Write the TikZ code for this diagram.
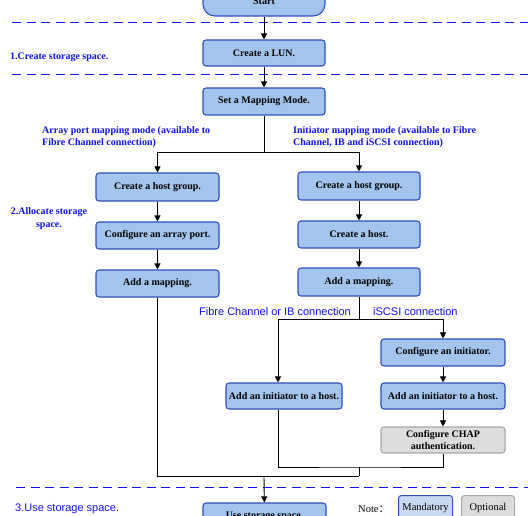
\documentclass[tikz,border=0pt]{standalone}
\usepackage{fontspec}
\setmainfont{Liberation Serif}
\setsansfont{Liberation Sans}
\newfontfamily\cjk{Noto Sans CJK SC}
\usetikzlibrary{arrows.meta}
\definecolor{boxfill}{HTML}{A3C4EC}
\definecolor{boxline}{HTML}{2F4FC0}
\definecolor{grayfill}{HTML}{DCDCDC}
\definecolor{grayline}{HTML}{A8A8A8}
\definecolor{lightfill}{HTML}{C8DAF2}
\definecolor{lblue}{HTML}{1010F0}
\begin{document}
\begin{tikzpicture}[x=1pt,y=-1pt,
  box/.style={draw=boxline, fill=boxfill, line width=1.1pt, rounded corners=3pt,
    minimum width=#1, minimum height=27pt, inner sep=0pt,
    font=\bfseries\fontsize{10}{12}\selectfont, align=center},
  box/.default=122pt,
  graybox/.style={box=#1, draw=grayline, fill=grayfill},
  graybox/.default=124pt,
  arr/.style={-{Triangle[length=6pt,width=6pt]}, line width=0.9pt},
  conn/.style={line width=0.9pt},
  sep/.style={draw=lblue, line width=1pt, dash pattern=on 9pt off 5.5pt},
  lab/.style={text=lblue, font=\bfseries\fontsize{10}{12}\selectfont, inner sep=0pt, align=left, anchor=west},
  slab/.style={text=lblue, font=\sffamily\fontsize{11}{13}\selectfont, inner sep=0pt, anchor=west}
]
\useasboundingbox (0,0) rectangle (528,516);
\clip (0,0) rectangle (528,516);

% separators
\path[sep] (12,23) -- (530,23);
\path[sep] (12,75) -- (530,75);
\path[sep] (16,487) -- (530,487);

% nodes
\node[box, minimum height=30pt, rounded corners=12pt] (start) at (264,1) {Start};
\node[box, minimum height=26pt] (lun) at (264,53) {Create a LUN.};
\node[box] (mode) at (264,101.5) {Set a Mapping Mode.};

\node[box=123pt, minimum height=28pt] (lhg) at (157.5,187) {Create a host group.};
\node[box=123pt] (lport) at (157.5,235.5) {Configure an array port.};
\node[box=123pt] (lmap) at (157.5,283.5) {Add a mapping.};

\node[box, minimum height=28pt] (rhg) at (359,186) {Create a host group.};
\node[box] (rhost) at (359,234.5) {Create a host.};
\node[box, minimum height=28pt] (rmap) at (359,282) {Add a mapping.};

\node[box=124pt] (cinit) at (443,352.5) {Configure an initiator.};
\node[box=124pt, minimum height=26pt] (rinit) at (443,396) {Add an initiator to a host.};
\node[graybox, minimum height=26pt] (chap) at (443,440) {Configure CHAP\\authentication.};
\node[box=116pt, minimum height=26pt] (linit) at (284,396) {Add an initiator to a host.};

\node[box=123pt, minimum height=27pt] (use) at (264.5,516.5) {Use storage space.};

% labels
\node[lab] (l1) at (10,57) {1.Create storage space.};
\node[lab] (l2) at (42,137) {Array port mapping mode (available to\\Fibre Channel connection)};
\node[lab] (l3) at (293,137) {Initiator mapping mode (available to Fibre\\Channel, IB and iSCSI connection)};
\node[lab, align=center, anchor=center, font=\bfseries\fontsize{10}{13}\selectfont] (l4) at (49,219) {2.Allocate storage\\space.};
\node[slab] (l5) at (199,312) {Fibre Channel or IB connection};
\node[slab] (l6) at (373,312) {iSCSI connection};
\node[slab] (l7) at (15,509) {3.Use storage space.};

% legend
\node[inner sep=0pt, anchor=west, font=\fontsize{10.5}{12}\selectfont] (note) at (358,509) {Note\cjk{：}};
\node[draw=boxline, fill=lightfill, line width=1pt, rounded corners=3pt, minimum width=54pt, minimum height=28pt, inner sep=0pt, anchor=north west, font=\fontsize{10.5}{12}\selectfont, text depth=0pt] (mand) at (398,495) {\raisebox{6pt}{Mandatory}};
\node[draw=grayline, fill=grayfill, line width=1pt, rounded corners=3pt, minimum width=53pt, minimum height=28pt, inner sep=0pt, anchor=north west, font=\fontsize{10.5}{12}\selectfont, text depth=0pt] (opt) at (461,495) {\raisebox{6pt}{Optional}};

% connectors
\draw[arr] (start) -- (lun);
\draw[arr] (lun) -- (mode);
\coordinate (s1) at (264,152);
\draw[conn] (mode.south) -- (s1);
\draw[arr] (s1) -| (lhg.north);
\draw[arr] (s1) -| (rhg.north);
\draw[arr] (lhg) -- (lport);
\draw[arr] (lport) -- (lmap);
\draw[arr] (rhg) -- (rhost);
\draw[arr] (rhost) -- (rmap);

\coordinate (s2) at (359,319);
\draw[conn] (rmap.south) -- (s2);
\draw[arr] (s2) -| ([xshift=-6pt]linit.north);
\draw[arr] (s2) -| (cinit.north);
\draw[arr] (cinit) -- (rinit);
\draw[arr] (rinit) -- (chap);

\coordinate (j1) at (359,467);
\coordinate (j2) at (359,476);
\coordinate (j3) at (264,476);
\draw[conn] ([xshift=-6pt]linit.south) |- (j1) -| (chap.south);
\draw[conn] (j1) -- (j2);
\draw[conn] (lmap.south) |- (j2);
\draw[arr] (j3) -- (use);
\end{tikzpicture}
\end{document}
